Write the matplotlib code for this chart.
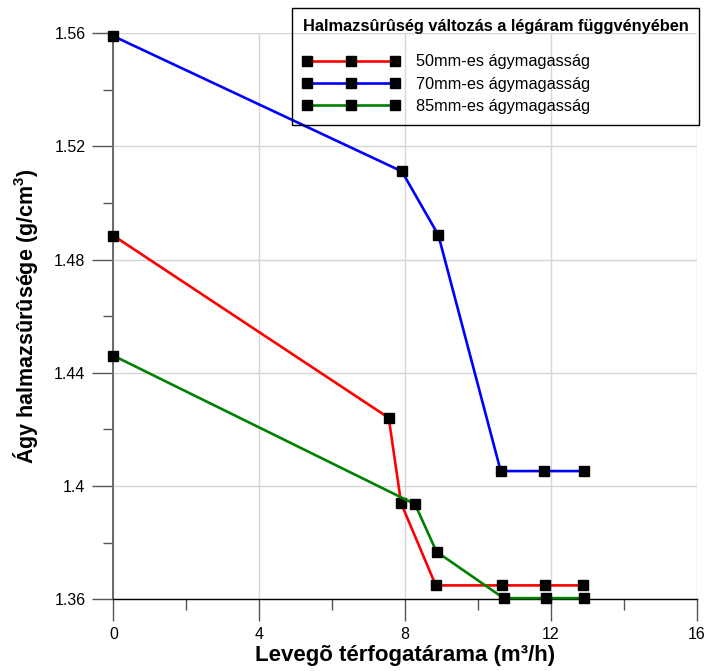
import matplotlib
matplotlib.use("Agg")
import matplotlib.pyplot as plt
from matplotlib.ticker import FixedLocator, MultipleLocator

plt.rcParams['font.family'] = ['Liberation Sans', 'DejaVu Sans']
plt.rcParams['mathtext.fontset'] = 'custom'
plt.rcParams['mathtext.rm'] = 'Liberation Sans:bold'
plt.rcParams['mathtext.default'] = 'regular'

# Measured bed densities at increasing air flow rates
x_50 = [0.0, 7.55, 7.89, 8.84, 10.66, 11.84, 12.87]
y_50 = [1.4885, 1.4241, 1.3939, 1.3649, 1.3649, 1.3649, 1.3649]

x_70 = [0.0, 7.91, 8.91, 10.62, 11.81, 12.90]
y_70 = [1.5590, 1.5112, 1.4887, 1.4053, 1.4053, 1.4053]

x_85 = [0.0, 8.27, 8.86, 10.70, 11.85, 12.89]
y_85 = [1.4461, 1.3936, 1.3768, 1.3604, 1.3604, 1.3604]

series_labels = ["50mm-es ágymagasság", "70mm-es ágymagasság", "85mm-es ágymagasság"]
series_colors = ["#ff0000", "#0000ff", "#008000"]

x_ticks = [0, 4, 8, 12, 16]
x_tick_labels = ["0", "4", "8", "12", "16"]
y_ticks = [1.36, 1.40, 1.44, 1.48, 1.52, 1.56]
y_tick_labels = ["1.36", "1.4", "1.44", "1.48", "1.52", "1.56"]

fig = plt.figure(figsize=(7.07, 6.71), dpi=100)
ax = fig.add_axes([0.1603, 0.1069, 0.8255, 0.8435])

for xs, ys, lab, col in zip([x_50, x_70, x_85], [y_50, y_70, y_85],
                            series_labels, series_colors):
    ax.plot(xs, ys, color=col, lw=1.9, marker='s', markersize=6.5,
            markerfacecolor='black', markeredgecolor='black', label=lab,
            zorder=3, clip_on=False)

ax.set_xlim(0, 16)
ax.set_ylim(1.36, 1.56)
ax.xaxis.set_major_locator(FixedLocator(x_ticks))
ax.set_xticklabels(x_tick_labels)
ax.xaxis.set_minor_locator(MultipleLocator(2))
ax.yaxis.set_major_locator(FixedLocator(y_ticks))
ax.set_yticklabels(y_tick_labels)
ax.yaxis.set_minor_locator(MultipleLocator(0.02))

ax.grid(True, which='major', color='#d6d6d6', lw=1.0, zorder=0)
ax.set_axisbelow(True)

for s in ['top', 'right']:
    ax.spines[s].set_visible(False)
ax.spines['left'].set_color('#6a6a6a')
ax.spines['left'].set_linewidth(1.4)
ax.spines['bottom'].set_color('black')
ax.spines['bottom'].set_linewidth(1.0)

ax.tick_params(axis='y', which='major', direction='out', length=15, width=1.0,
               color='#555555', labelsize=11.5, pad=5)
ax.tick_params(axis='y', which='minor', direction='out', length=7.5, width=1.0,
               color='#555555')
ax.tick_params(axis='x', which='major', direction='out', length=16, width=1.0,
               color='#555555', labelsize=11.5, pad=4)
ax.tick_params(axis='x', which='minor', direction='out', length=8, width=1.0,
               color='#555555')

ax.set_xlabel("Levegõ térfogatárama (m³/h)", fontsize=16, fontweight='bold',
              labelpad=2)
ax.set_ylabel("Ágy halmazsûrûsége (g/cm$^{3}$)", fontsize=15.5, fontweight='bold',
              labelpad=10)

leg = ax.legend(loc='upper left', bbox_to_anchor=(292 / 707, 1 - 8 / 671),
                bbox_transform=fig.transFigure,
                title="Halmazsûrûség változás a légáram függvényében",
                title_fontproperties={'weight': 'bold', 'size': 11.8},
                fontsize=11.7, numpoints=3, handlelength=6.0, handletextpad=0.95,
                labelspacing=0.45, borderpad=0.65, borderaxespad=0,
                fancybox=False, frameon=True, framealpha=1)
leg.get_frame().set_edgecolor('black')
leg.get_frame().set_linewidth(1.0)
leg.get_frame().set_facecolor('none')
leg._legend_box.sep = 15
leg._legend_box.align = 'left'

fig.savefig("out.png", dpi=100)
